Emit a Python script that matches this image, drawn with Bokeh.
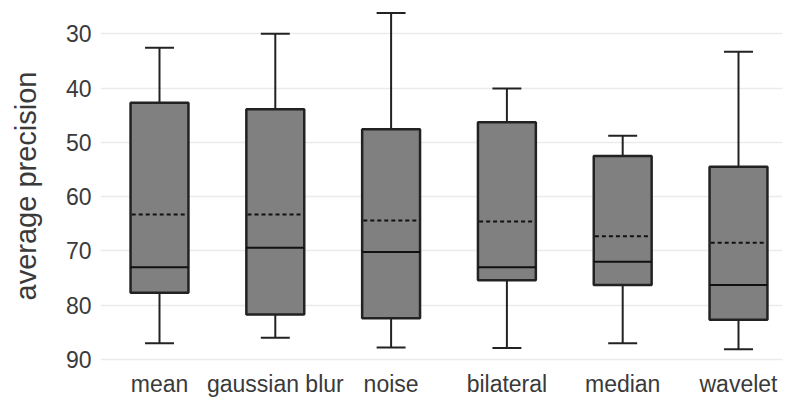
import numpy as np
from bokeh.plotting import figure
from bokeh.models import Range1d, FixedTicker
from bokeh.embed import file_html
from bokeh.resources import INLINE

categories = ["mean", "gaussian blur", "noise", "bilateral", "median", "wavelet"]
whisker_top = [32.6, 30.0, 26.2, 40.1, 48.8, 33.3]
q1 = [42.7, 43.9, 47.6, 46.3, 52.5, 54.5]
medians = [73.0, 69.4, 70.2, 73.0, 72.0, 76.3]
means = [63.3, 63.3, 64.4, 64.6, 67.3, 68.5]
q3 = [77.7, 81.7, 82.4, 75.4, 76.3, 82.7]
whisker_bottom = [87.0, 86.0, 87.8, 87.9, 87.0, 88.1]
y_ticks = [30, 40, 50, 60, 70, 80, 90]

x = np.arange(len(categories))
box_w = 0.5
cap_w = 0.25

p = figure(width=786, height=399, output_backend="svg", toolbar_location=None,
           x_range=Range1d(-0.5095, 5.380), y_range=Range1d(90.37, 25.72),
           min_border_left=100, min_border_right=4, min_border_top=10, min_border_bottom=37)

# whiskers
p.segment(x0=x, x1=x, y0=whisker_top, y1=q1, line_color="#222222", line_width=2)
p.segment(x0=x, x1=x, y0=q3, y1=whisker_bottom, line_color="#222222", line_width=2)
p.segment(x0=x - cap_w / 2, x1=x + cap_w / 2, y0=whisker_top, y1=whisker_top, line_color="#222222", line_width=2)
p.segment(x0=x - cap_w / 2, x1=x + cap_w / 2, y0=whisker_bottom, y1=whisker_bottom, line_color="#222222", line_width=2)

# boxes
p.vbar(x=x, width=box_w, bottom=q1, top=q3, fill_color="#808080", line_color="#222222", line_width=2.5)

# median & mean
p.segment(x0=x - box_w / 2, x1=x + box_w / 2, y0=medians, y1=medians, line_color="#111111", line_width=2)
p.segment(x0=x - box_w / 2 + 0.01, x1=x + box_w / 2 - 0.01, y0=means, y1=means, line_color="#111111",
          line_width=2, line_dash="4 3")

p.xaxis.ticker = FixedTicker(ticks=list(x))
p.xaxis.major_label_overrides = {int(i): c for i, c in zip(x, categories)}
p.yaxis.ticker = FixedTicker(ticks=y_ticks)
p.yaxis.axis_label = "average precision"

for ax in (p.xaxis[0], p.yaxis[0]):
    ax.axis_line_color = None
    ax.major_tick_line_color = None
    ax.minor_tick_line_color = None
    ax.major_label_text_font = "Liberation Sans"
    ax.major_label_text_font_size = "23px"
    ax.major_label_text_color = "#3a3a3a"
    ax.major_label_standoff = 3

p.yaxis.axis_label_text_font = "Liberation Sans"
p.yaxis.axis_label_text_font_size = "29px"
p.yaxis.axis_label_text_font_style = "normal"
p.yaxis.axis_label_text_color = "#3a3a3a"
p.yaxis.axis_label_standoff = 21

p.xgrid.grid_line_color = None
p.ygrid.grid_line_color = "#ebebeb"
p.ygrid.grid_line_width = 1.5
p.outline_line_color = None

open("out.html", "w").write(file_html(p, INLINE))
